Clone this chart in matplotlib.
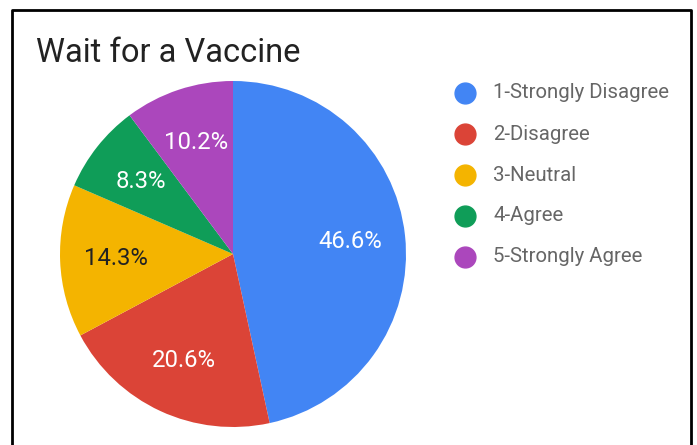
import matplotlib.pyplot as plt
from matplotlib.lines import Line2D

plt.rcParams['font.family'] = ['Roboto', 'DejaVu Sans']

# Data
categories = ['1-Strongly Disagree', '2-Disagree', '3-Neutral', '4-Agree', '5-Strongly Agree']
shares = [46.6, 20.6, 14.3, 8.3, 10.2]
colors = ['#4285F4', '#DB4437', '#F4B400', '#0F9D58', '#AB47BC']
label_colors = ['white', 'white', '#222222', 'white', 'white']
title = 'Wait for a Vaccine'

W, H = 697, 445
fig = plt.figure(figsize=(W / 100, H / 100), dpi=100)

# pie axes: center (233, 254) px, radius 173 px
cx, cy, r = 233, 254, 173
ax = fig.add_axes([(cx - r) / W, (H - cy - r) / H, 2 * r / W, 2 * r / H])
wedges, texts, autotexts = ax.pie(
    shares, colors=colors, startangle=90, counterclock=False,
    autopct='%1.1f%%', pctdistance=0.68, radius=1,
    wedgeprops=dict(linewidth=0),
    textprops=dict(fontsize=17.2))
for t, c in zip(autotexts, label_colors):
    t.set_color(c)
ax.set_xlim(-1, 1)
ax.set_ylim(-1, 1)
ax.set_aspect('equal')
ax.axis('off')

# title
fig.text(36 / W, 1 - 62 / H, title, fontsize=23.5, color='#222222', ha='left', va='baseline')

# legend
leg_x, leg_text_x = 465, 493
leg_y0, leg_dy = 93, 41
for i, (cat, col) in enumerate(zip(categories, colors)):
    y = 1 - (leg_y0 + i * leg_dy) / H
    fig.add_artist(Line2D([leg_x / W], [y], marker='o', markersize=15,
                          color=col, linestyle='none', transform=fig.transFigure))
    fig.text(leg_text_x / W, y, cat, fontsize=14.7, color='#666666', ha='left', va='center')

# outer frame
bx0, bx1, by0 = 12 / W, 691 / W, 1 - 10 / H
fig.add_artist(Line2D([bx0, bx0, bx1, bx1], [-0.1, by0, by0, -0.1], color='black',
                      linewidth=2, transform=fig.transFigure))

fig.savefig('out.png', dpi=100)
